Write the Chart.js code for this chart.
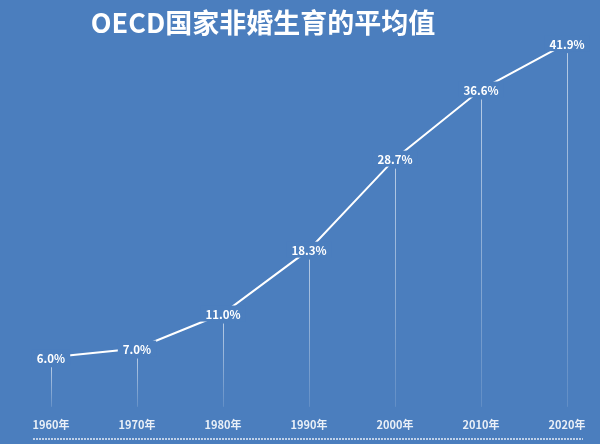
<!DOCTYPE html>
<html>
<head>
<meta charset="utf-8">
<script src="https://cdn.jsdelivr.net/npm/chart.js@4.4.0/dist/chart.umd.min.js"></script>
<style>
    html, body { margin: 0; padding: 0; background: #4b7ebe; }
    #wrap { width: 600px; height: 444px; }
</style>
</head>
<body>
<div id="wrap"><canvas id="birthChart"></canvas></div>
<script>
// data
const titleText = "OECD国家非婚生育的平均值";
const years = ["1960年", "1970年", "1980年", "1990年", "2000年", "2010年", "2020年"];
const shares = [6.0, 7.0, 11.0, 18.3, 28.7, 36.6, 41.9];

const bgColor = "#4b7ebe";
const fontFamily = "'Noto Sans CJK SC', 'Noto Sans', sans-serif";

// title, value labels and drop lines
const decorPlugin = {
    id: "decor",
    afterDatasetsDraw(chart) {
        const ctx = chart.ctx;
        const area = chart.chartArea;
        const yScale = chart.scales.y;
        const base = yScale.getPixelForValue(0);
        const points = chart.getDatasetMeta(0).data;

        ctx.save();
        ctx.font = "bold 11.5px " + fontFamily;
        ctx.textAlign = "center";
        ctx.textBaseline = "middle";
        points.forEach((pt, i) => {
            const label = shares[i].toFixed(1) + "%";
            const w = ctx.measureText(label).width;

            // mask the line behind the label
            ctx.fillStyle = bgColor;
            ctx.fillRect(pt.x - w / 2 - 5, pt.y - 8, w + 10, 16);

            // drop line to the baseline
            const top = pt.y + 10;
            const grad = ctx.createLinearGradient(0, top, 0, base);
            grad.addColorStop(0, "rgba(255,255,255,0.6)");
            grad.addColorStop(1, "rgba(255,255,255,0.12)");
            ctx.strokeStyle = grad;
            ctx.lineWidth = 1;
            ctx.beginPath();
            ctx.moveTo(pt.x + 0.5, top);
            ctx.lineTo(pt.x + 0.5, base - 3);
            ctx.stroke();

            ctx.fillStyle = "#ffffff";
            ctx.fillText(label, pt.x, pt.y + 1);
        });

        // dotted rule under the year labels
        ctx.strokeStyle = "rgba(255,255,255,0.85)";
        ctx.lineWidth = 1.5;
        ctx.setLineDash([2, 1]);
        ctx.beginPath();
        ctx.moveTo(area.left - 18, 439);
        ctx.lineTo(area.right + 16, 439);
        ctx.stroke();
        ctx.setLineDash([]);

        // title
        ctx.fillStyle = "#ffffff";
        ctx.font = "bold 27px " + fontFamily;
        ctx.fillText(titleText, 263, 23);
        ctx.restore();
    }
};

const ctx = document.getElementById("birthChart").getContext("2d");
const birthChart = new Chart(ctx, {
    type: "line",
    data: {
        labels: years,
        datasets: [{
            data: shares,
            borderColor: "#ffffff",
            borderWidth: 2,
            pointRadius: 0,
            tension: 0,
            fill: false,
        }],
    },
    options: {
        responsive: true,
        maintainAspectRatio: false,
        animation: false,
        layout: {
            padding: { left: 51, right: 33, top: 16, bottom: 5 },
        },
        plugins: {
            legend: { display: false },
            tooltip: { enabled: false },
            title: { display: false },
        },
        scales: {
            x: {
                offset: false,
                grid: { display: false, drawTicks: false },
                border: { display: false },
                ticks: {
                    color: "rgba(255,255,255,0.88)",
                    padding: 8,
                    maxRotation: 0,
                    font: { family: fontFamily, size: 11, weight: "bold" },
                },
            },
            y: {
                display: false,
                min: 0,
                max: 45,
            },
        },
    },
    plugins: [decorPlugin],
});
</script>
</body>
</html>
